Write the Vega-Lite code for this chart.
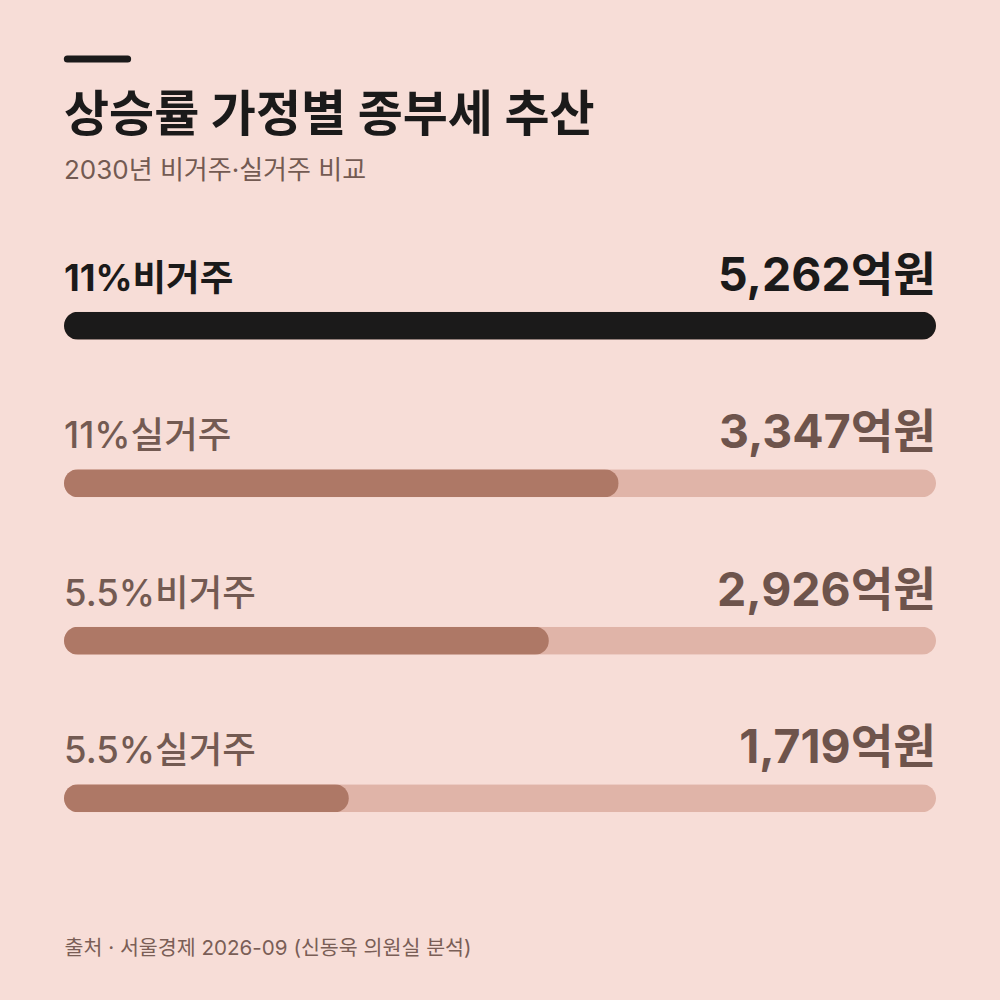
{
  "$schema": "https://vega.github.io/schema/vega-lite/v6.json",
  "width": 872,
  "height": 630,
  "autosize": {"type": "none"},
  "padding": {"left": 64, "right": 64, "top": 230, "bottom": 140},
  "background": "#F7DDD7",
  "view": {"stroke": null},
  "title": {
    "text": "상승률 가정별 종부세 추산",
    "subtitle": "2030년 비거주·실거주 비교",
    "anchor": "start",
    "frame": "group",
    "offset": -128,
    "font": "Inter, Noto Sans CJK KR",
    "fontSize": 49,
    "fontWeight": 700,
    "color": "#1B1A1A",
    "subtitleFont": "Inter, Noto Sans CJK KR",
    "subtitleFontSize": 26,
    "subtitleFontWeight": 400,
    "subtitleColor": "#735A52",
    "subtitlePadding": 17
  },
  "data": {
    "values": [
      {"label": "11%비거주", "value": 5262},
      {"label": "11%실거주", "value": 3347},
      {"label": "5.5%비거주", "value": 2926},
      {"label": "5.5%실거주", "value": 1719}
    ]
  },
  "transform": [
    {"joinaggregate": [{"op": "max", "field": "value", "as": "maxv"}]},
    {"calculate": "format(datum.value, ',') + '억원'", "as": "vlabel"}
  ],
  "encoding": {
    "y": {
      "field": "label",
      "type": "nominal",
      "sort": null,
      "scale": {"paddingInner": 0, "paddingOuter": 0},
      "axis": null
    }
  },
  "layer": [
    {
      "mark": {"type": "bar", "height": 28, "cornerRadius": 14, "yOffset": 17, "color": "#E0B4A8"},
      "encoding": {
        "x": {
          "field": "maxv",
          "type": "quantitative",
          "scale": {"domain": [0, 5262], "nice": false, "zero": true},
          "axis": {
            "title": "출처 · 서울경제 2026-09 (신동욱 의원실 분석)",
            "labels": false,
            "ticks": false,
            "domain": false,
            "grid": false,
            "titleAnchor": "start",
            "titleAlign": "left",
            "titleFont": "Inter, Noto Sans CJK KR",
            "titleFontSize": 20.6,
            "titleFontWeight": 400,
            "titleColor": "#7A5E56",
            "titlePadding": 78
          }
        }
      }
    },
    {
      "mark": {"type": "bar", "height": 28, "cornerRadius": 14, "yOffset": 17},
      "encoding": {
        "x": {"field": "value", "type": "quantitative"},
        "color": {
          "condition": {"test": "datum.value == datum.maxv", "value": "#1B1A1A"},
          "value": "#AE7866"
        }
      }
    },
    {
      "transform": [{"filter": "datum.value == datum.maxv"}],
      "mark": {"type": "text", "align": "left", "baseline": "middle", "dy": -29, "font": "Inter, Noto Sans CJK KR", "fontSize": 36.5, "fontWeight": 700, "color": "#1B1A1A"},
      "encoding": {
        "x": {"datum": 0, "type": "quantitative"},
        "text": {"field": "label"}
      }
    },
    {
      "transform": [{"filter": "datum.value != datum.maxv"}],
      "mark": {"type": "text", "align": "left", "baseline": "middle", "dy": -29, "font": "Inter, Noto Sans CJK KR", "fontSize": 36.5, "fontWeight": 500, "color": "#735A52"},
      "encoding": {
        "x": {"datum": 0, "type": "quantitative"},
        "text": {"field": "label"}
      }
    },
    {
      "mark": {"type": "text", "align": "right", "baseline": "middle", "dy": -32, "font": "Inter, Noto Sans CJK KR", "fontSize": 46.4, "fontWeight": 700},
      "encoding": {
        "x": {"field": "maxv", "type": "quantitative"},
        "text": {"field": "vlabel"},
        "color": {
          "condition": {"test": "datum.value == datum.maxv", "value": "#1B1A1A"},
          "value": "#6E544C"
        }
      }
    },
    {
      "data": {"values": [{"part": "accent", "start": 20, "end": 384}]},
      "mark": {"type": "rule", "strokeWidth": 7, "strokeCap": "round", "color": "#1B1A1A"},
      "encoding": {
        "x": {"field": "start", "type": "quantitative"},
        "x2": {"field": "end"},
        "y": {"value": -171}
      }
    }
  ]
}
